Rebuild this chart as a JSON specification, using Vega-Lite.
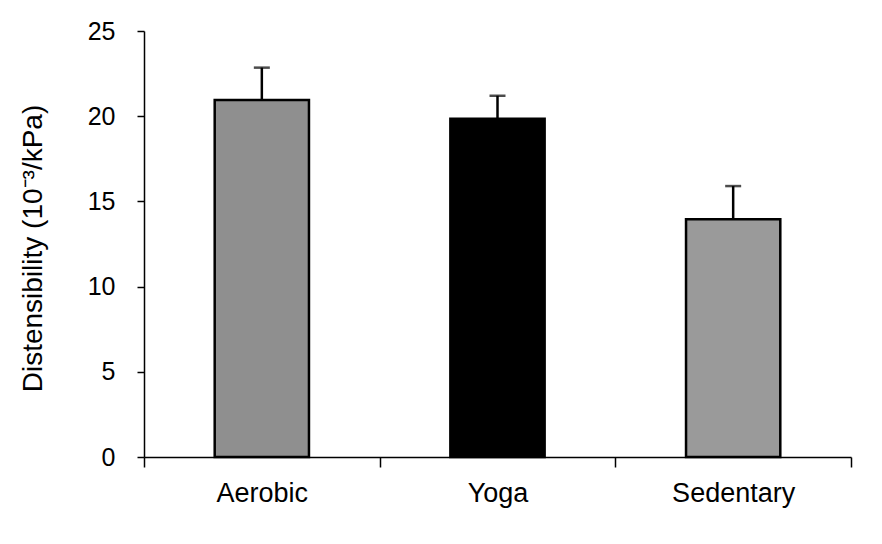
{
  "$schema": "https://vega.github.io/schema/vega-lite/v6.json",
  "width": 707,
  "height": 426,
  "autosize": {"type": "none"},
  "padding": {"left": 144, "top": 31, "right": 31, "bottom": 87},
  "background": "white",
  "config": {
    "view": {"stroke": null},
    "font": "Liberation Sans"
  },
  "data": {
    "values": [
      {"group": "Aerobic", "mean": 20.95, "upper": 22.85, "fill": "#8f8f8f"},
      {"group": "Yoga", "mean": 19.85, "upper": 21.2, "fill": "#000000"},
      {"group": "Sedentary", "mean": 13.95, "upper": 15.9, "fill": "#9a9a9a"}
    ]
  },
  "encoding": {
    "x": {
      "field": "group",
      "type": "nominal",
      "sort": null,
      "scale": {"paddingInner": 0, "paddingOuter": 0},
      "axis": {
        "title": null,
        "labelAngle": 0,
        "labelFontSize": 27,
        "labelColor": "black",
        "labelPadding": 13,
        "domainColor": "black",
        "domainWidth": 1.5,
        "tickColor": "black",
        "tickWidth": 1.5,
        "tickSize": 10,
        "tickBand": "extent"
      }
    }
  },
  "layer": [
    {
      "mark": {"type": "bar", "stroke": "black", "strokeWidth": 2.5, "width": {"band": 0.4}},
      "encoding": {
        "y": {
          "field": "mean",
          "type": "quantitative",
          "scale": {"domain": [0, 25], "nice": false},
          "axis": {
            "title": "Distensibility (10⁻³/kPa)",
            "titleFontSize": 28,
            "titleFontWeight": "normal",
            "titleColor": "black",
            "titlePadding": 40,
            "titleY": 217,
            "values": [0, 5, 10, 15, 20, 25],
            "labelFontSize": 25,
            "labelColor": "black",
            "labelPadding": 22,
            "grid": false,
            "domainColor": "black",
            "domainWidth": 1.5,
            "tickColor": "black",
            "tickWidth": 1.5,
            "tickSize": 7
          }
        },
        "fill": {"field": "fill", "type": "nominal", "scale": null}
      }
    },
    {
      "mark": {"type": "rule", "color": "black", "strokeWidth": 2.5},
      "encoding": {
        "y": {"field": "mean", "type": "quantitative"},
        "y2": {"field": "upper"}
      }
    },
    {
      "mark": {"type": "tick", "color": "black", "thickness": 2.5, "size": 16, "orient": "horizontal"},
      "encoding": {
        "y": {"field": "upper", "type": "quantitative"}
      }
    }
  ]
}
